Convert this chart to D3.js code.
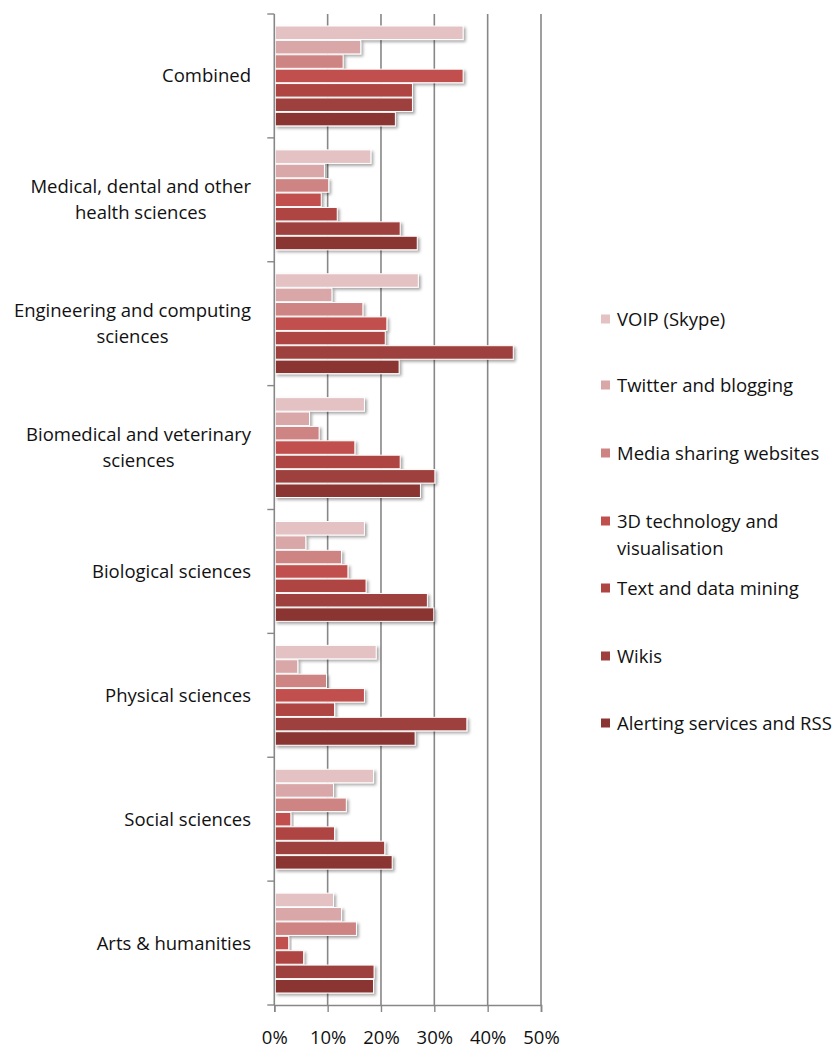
<!DOCTYPE html>
<html>
<head>
<meta charset="utf-8">
<script src="https://cdn.jsdelivr.net/npm/d3@7"></script>
<style>
  html, body { margin: 0; padding: 0; background: #fff; }
  svg text { font-family: "Open Sans", sans-serif; fill: #111; }
</style>
</head>
<body>
<svg id="chart" width="834" height="1050"></svg>
<script>
const categories = [
  "Combined",
  "Medical, dental and other|health sciences",
  "Engineering and computing|sciences",
  "Biomedical and veterinary|sciences",
  "Biological sciences",
  "Physical sciences",
  "Social sciences",
  "Arts & humanities"
];
const seriesNames = [
  "VOIP (Skype)",
  "Twitter and blogging",
  "Media sharing websites",
  "3D technology and|visualisation",
  "Text and data mining",
  "Wikis",
  "Alerting services and RSS"
];
const seriesColors = ["#E4C2C4", "#D9A7A8", "#CD8483", "#C0504D", "#AE4542", "#9E403D", "#8A3533"];
// values per series, in category order
const voip      = [35.4, 18.1, 27.0, 16.9, 16.9, 19.1, 18.6, 11.1];
const twitter   = [16.2,  9.4, 10.8,  6.6,  5.9,  4.4, 11.1, 12.6];
const media     = [12.9, 10.2, 16.6,  8.4, 12.6,  9.8, 13.5, 15.4];
const tech3d    = [35.4,  8.8, 21.1, 15.1, 13.8, 16.9,  3.1,  2.7];
const textMining= [25.9, 11.8, 20.8, 23.6, 17.2, 11.3, 11.3,  5.5];
const wikis     = [25.9, 23.6, 44.8, 30.1, 28.7, 36.1, 20.7, 18.7];
const alerting  = [22.7, 26.8, 23.4, 27.4, 29.9, 26.4, 22.1, 18.6];
const xTicks = [0, 10, 20, 30, 40, 50];

const seriesValues = [voip, twitter, media, tech3d, textMining, wikis, alerting];

const svg = d3.select("#chart");
const plotLeft = 274.3, plotRight = 541, plotTop = 14, plotBottom = 1005;
const fontSize = 18.5;

const defs = svg.append("defs");
const f = defs.append("filter").attr("id", "shadow").attr("x", "-10%").attr("y", "-40%").attr("width", "130%").attr("height", "200%");
f.append("feDropShadow").attr("dx", 2).attr("dy", 2).attr("stdDeviation", 1.6)
  .attr("flood-color", "#000").attr("flood-opacity", 0.35);

const x = d3.scaleLinear().domain([0, 50]).range([plotLeft, plotRight]);
const y0 = d3.scaleBand().domain(categories).range([plotTop, plotBottom]).padding(0);
const y1 = d3.scaleBand().domain(d3.range(seriesNames.length))
  .range([12, y0.bandwidth() - 12]).paddingInner(0.06).paddingOuter(0);

// gridlines
svg.append("g").selectAll("line").data(xTicks.slice(1)).join("line")
  .attr("x1", d => x(d)).attr("x2", d => x(d))
  .attr("y1", plotTop).attr("y2", plotBottom)
  .attr("stroke", "#878787").attr("stroke-width", 1.6);

// bars
const groups = svg.append("g").selectAll("g").data(categories).join("g")
  .attr("transform", c => `translate(0,${y0(c)})`);
groups.selectAll("rect").data((c, ci) => seriesValues.map((s, si) => ({si, v: s[ci]})))
  .join("rect")
  .attr("x", x(0) + 1)
  .attr("y", d => y1(d.si))
  .attr("width", d => x(d.v) - x(0) - 1)
  .attr("height", y1.bandwidth())
  .attr("fill", d => seriesColors[d.si])
  .attr("stroke", "#fff").attr("stroke-width", 1)
  .attr("filter", "url(#shadow)");

// y axis
const yAxisG = svg.append("g");
yAxisG.append("line").attr("x1", plotLeft).attr("x2", plotLeft).attr("y1", plotTop).attr("y2", plotBottom)
  .attr("stroke", "#878787").attr("stroke-width", 1.6);
const boundaries = categories.map(c => y0(c)).concat([plotBottom]);
yAxisG.selectAll("line.t").data(boundaries).join("line").attr("class", "t")
  .attr("x1", plotLeft - 7).attr("x2", plotLeft).attr("y1", d => d).attr("y2", d => d)
  .attr("stroke", "#878787").attr("stroke-width", 1.4);

// x axis
const xAxis = d3.axisBottom(x).tickValues(xTicks).tickFormat(d => d + "%").tickSize(7).tickPadding(19);
const xg = svg.append("g").attr("transform", `translate(0,${plotBottom})`).call(xAxis);
xg.select(".domain").attr("stroke", "#878787").attr("stroke-width", 1.6);
xg.selectAll(".tick line").attr("stroke", "#878787").attr("stroke-width", 1.4);
xg.selectAll(".tick text").style("font-family", '"Open Sans", sans-serif').style("font-size", fontSize + "px").attr("fill", "#111");

// category labels
const labelRight = 251, lineH = 26;
categories.forEach(c => {
  const lines = c.split("|");
  const cy = y0(c) + y0.bandwidth() / 2;
  const t = svg.append("text").attr("font-size", fontSize).attr("text-anchor", "middle");
  const spans = lines.map((ln, i) => t.append("tspan")
    .attr("y", cy + (i - (lines.length - 1) / 2) * lineH + 6.5).text(ln));
  let maxW = 0;
  spans.forEach(s => { maxW = Math.max(maxW, s.node().getComputedTextLength()); });
  spans.forEach(s => s.attr("x", labelRight - maxW / 2));
});

// legend
const legendY = [319, 385, 453, 521, 588, 656, 723];
const lg = svg.append("g");
seriesNames.forEach((n, i) => {
  lg.append("rect").attr("x", 601).attr("y", legendY[i] - 4.5).attr("width", 9).attr("height", 9)
    .attr("fill", seriesColors[i]);
  const t = lg.append("text").attr("font-size", fontSize);
  n.split("|").forEach((ln, j) => {
    t.append("tspan").attr("x", 617).attr("y", legendY[i] + 6.5 + j * 27).text(ln);
  });
});
</script>
</body>
</html>
